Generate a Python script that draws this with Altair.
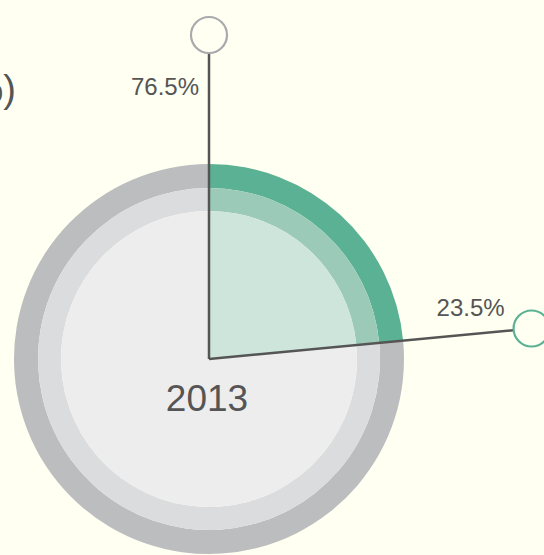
import altair as alt
import pandas as pd

# ---- data ----
categories = ["share", "rest"]
values = [23.5, 76.5]
stack_order = [0, 1]
year_label = ["2013"]
unit_label = ["(%)"]

# ---- layout / style ----
W, H = 544, 555
CX, CY = 209, 359
BG = "#fffff2"
TXT = "#555555"
FONT = "Liberation Sans"
LINE_LEN = 306
CIRCLE_DIST = 324

df = pd.DataFrame({"category": categories, "value": values, "order": stack_order})

xs = alt.Scale(domain=[0, W], nice=False, zero=False)
ys = alt.Scale(domain=[0, H], nice=False, zero=False, reverse=True)

base = alt.Chart(df)


def ring(r_out, r_in, green, gray):
    return base.mark_arc(outerRadius=r_out, innerRadius=r_in, stroke=None).encode(
        theta=alt.Theta("value:Q", stack=True),
        order=alt.Order("order:Q", sort="ascending"),
        color=alt.Color("category:N",
                        scale=alt.Scale(domain=categories, range=[green, gray]),
                        legend=None),
        x=alt.value(CX),
        y=alt.value(CY),
    )


outer = ring(195, 171, "#5ab194", "#bcbdbf")
middle = ring(171, 148, "#9ccab8", "#dbdcde")
inner = ring(148, 0, "#cee5dc", "#ededee")

geo = base.transform_joinaggregate(total="sum(value)").transform_window(
    cum="sum(value)", sort=[alt.SortField("order")]
).transform_calculate(
    ang="datum.cum / datum.total * 2 * PI",
    x0=f"{CX}",
    y0=f"{CY}",
    x1=f"{CX} + {LINE_LEN} * sin(datum.ang)",
    y1=f"{CY} - {LINE_LEN} * cos(datum.ang)",
    cx=f"{CX} + {CIRCLE_DIST} * sin(datum.ang)",
    cy=f"{CY} - {CIRCLE_DIST} * cos(datum.ang)",
    label="format(datum.value, '.1f') + '%'",
)

lines = geo.mark_rule(color=TXT, strokeWidth=2.5).encode(
    x=alt.X("x0:Q", scale=xs, axis=None),
    y=alt.Y("y0:Q", scale=ys, axis=None),
    x2="x1:Q",
    y2="y1:Q",
)

circles = geo.mark_point(shape="circle", size=1296, fill=BG, fillOpacity=1,
                         opacity=1, strokeWidth=2.2).encode(
    x=alt.X("cx:Q", scale=xs, axis=None),
    y=alt.Y("cy:Q", scale=ys, axis=None),
    stroke=alt.Stroke("category:N",
                      scale=alt.Scale(domain=categories, range=["#5ab194", "#a9aaae"]),
                      legend=None),
)

label_rest = geo.transform_filter("datum.category == 'rest'").mark_text(
    font=FONT, fontSize=24, color=TXT, align="right", baseline="middle", dx=-10, dy=53
).encode(
    x=alt.X("cx:Q", scale=xs, axis=None),
    y=alt.Y("cy:Q", scale=ys, axis=None),
    text="label:N",
)

label_share = geo.transform_filter("datum.category == 'share'").mark_text(
    font=FONT, fontSize=24, color=TXT, align="center", baseline="middle", dx=-61, dy=-20
).encode(
    x=alt.X("cx:Q", scale=xs, axis=None),
    y=alt.Y("cy:Q", scale=ys, axis=None),
    text="label:N",
)

year = alt.Chart(pd.DataFrame({"year": year_label})).mark_text(
    font=FONT, fontSize=37, color=TXT, align="center", baseline="middle"
).encode(
    x=alt.value(CX - 2),
    y=alt.value(CY + 41),
    text="year:N",
)

unit = alt.Chart(pd.DataFrame({"unit": unit_label})).mark_text(
    font=FONT, fontSize=38, color=TXT, align="right", baseline="alphabetic"
).encode(
    x=alt.value(16),
    y=alt.value(102),
    text="unit:N",
)

chart = alt.layer(
    outer, middle, inner, lines, circles, label_rest, label_share, year, unit
).resolve_scale(
    color="independent", stroke="independent"
).properties(
    width=W, height=H, background=BG, padding=0, autosize="none"
).configure_view(stroke=None)

chart.save("out.html", embed_options={"renderer": "svg", "actions": False})
